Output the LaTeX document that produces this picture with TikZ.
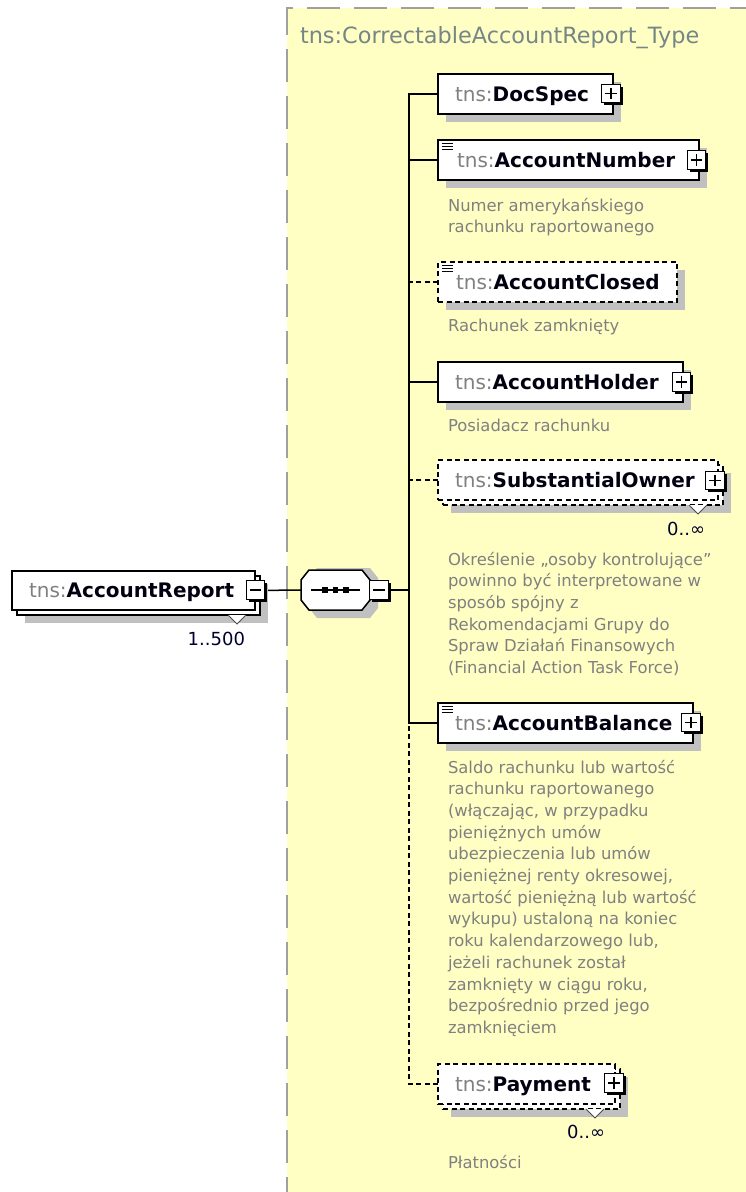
\documentclass[tikz,border=0pt]{standalone}
\usepackage{fontspec}
\setmainfont{DejaVu Sans}
\usetikzlibrary{shadows}

\definecolor{bgyellow}{RGB}{255,255,196}
\definecolor{framegrey}{RGB}{160,160,160}
\definecolor{shadowgrey}{RGB}{192,192,192}
\definecolor{docgrey}{RGB}{128,128,128}
\definecolor{prefixgrey}{RGB}{128,128,128}
\definecolor{hdrgrey}{RGB}{118,134,134}
\definecolor{namecol}{RGB}{0,0,16}
\definecolor{multcol}{RGB}{0,0,48}

\newcommand\tnsp{{\mdseries\color{prefixgrey}tns:}}
\newcommand\doclines[1]{\begin{tabular}[t]{@{}l@{}}#1\end{tabular}}
\newcommand\docmark[1]{%
  \foreach \dy in {3.5,6.5,9.5}{\draw[line width=1pt] ([xshift=4pt,yshift=-\dy pt]#1.north west) -- ++(11pt,0pt);}}

\tikzset{
  every node/.style={inner sep=0pt, outer sep=0pt},
  conn/.style={line width=1.5pt, black},
  optconn/.style={conn, dash pattern=on 5pt off 3.5pt},
  elembox/.style={draw=black, line width=1.5pt, fill=white, minimum height=40pt,
    drop shadow={shadow xshift=8pt, shadow yshift=-8pt, fill=shadowgrey, opacity=1, draw=none}},
  elemfront/.style={draw=black, line width=1.5pt, fill=white, minimum height=40pt},
  optbox/.style={elembox, dash pattern=on 5pt off 3.5pt},
  optfront/.style={elemfront, dash pattern=on 5pt off 3.5pt},
  ename/.style={anchor=base west, font=\fontsize{20}{24}\selectfont\bfseries, text=namecol},
  doctext/.style={anchor=base west, font=\fontsize{16.4}{21.7}\selectfont, text=docgrey},
  mult/.style={anchor=base east, font=\fontsize{18}{22}\selectfont, text=multcol},
  pmbox/.style={draw=black, line width=1.2pt, fill=white, minimum size=18.5pt,
    drop shadow={shadow xshift=2.5pt, shadow yshift=-2.5pt, fill=black, opacity=1, draw=none}},
  plusbox/.style={pmbox, path picture={
    \draw[line width=1.2pt] ([xshift=3.5pt]path picture bounding box.west) -- ([xshift=-3.5pt]path picture bounding box.east);
    \draw[line width=1.2pt] ([yshift=-3.5pt]path picture bounding box.north) -- ([yshift=3.5pt]path picture bounding box.south);}},
  minusbox/.style={pmbox, path picture={
    \draw[line width=1.2pt] ([xshift=3.5pt]path picture bounding box.west) -- ([xshift=-3.5pt]path picture bounding box.east);}},
  wedge/.style={fill=white, draw=black!70, line width=0.8pt},
}

\begin{document}
\begin{tikzpicture}[x=1pt,y=-1pt]
\useasboundingbox (0,0) rectangle (746,1192);
\clip (0,0) rectangle (746,1192);

% complex type frame
\fill[bgyellow] (287,8) rectangle (770,1210);
\draw[framegrey, line width=2.5pt, dash pattern=on 33pt off 14pt] (287,1210) -- (287,8) -- (770,8);
\node[anchor=base west, font=\fontsize{22.4}{26}\selectfont, text=hdrgrey] (hdr) at (300,43.3) {tns:CorrectableAccountReport\_Type};

% invisible anchors for layout
\coordinate (bus) at (409,590);
\node[minimum width=69pt, minimum height=40pt] (seq) at (335.5,590) {};
\node[minimum width=243pt, minimum height=39pt] (ar) at (133.5,590.5) {};
\node[minimum width=175pt, minimum height=40pt] (ds) at (525.5,94) {};
\node[minimum width=261pt, minimum height=40pt] (an) at (568.5,160) {};
\node[minimum width=239pt, minimum height=40pt] (ac) at (557.5,282) {};
\node[minimum width=245pt, minimum height=40pt] (ah) at (560.5,382) {};
\node[minimum width=280pt, minimum height=40pt] (so) at (578,480) {};
\node[minimum width=255pt, minimum height=40pt] (ab) at (565.5,723) {};
\node[minimum width=177pt, minimum height=40pt] (pay) at (526.5,1084) {};

% connectors
\draw[conn] (ar.east) -- (seq.west);
\draw[conn] (seq.east) -- (bus);
\draw[conn] (ds.west) -| (bus);
\draw[conn] (an.west) -| (bus);
\draw[conn] (ah.west) -| (bus);
\draw[conn] (ab.west) -| (bus);
\draw[optconn] (ac.west) -- (ac.west -| bus);
\draw[optconn] (so.west) -- (so.west -| bus);
\draw[optconn] (pay.west) -| (ab.west -| bus);

% sequence compositor
\begin{scope}[shift={(seq.center)}]
  \fill[shadowgrey] (-26.5,-12) -- (-18.5,-22) -- (34.5,-22) -- (42.5,-12) -- (42.5,18) -- (34.5,28) -- (-18.5,28) -- (-26.5,18) -- cycle;
  \filldraw[fill=white, draw=black, line width=1.5pt] (-34.5,-10) -- (-26.5,-20) -- (26.5,-20) -- (34.5,-10) -- (34.5,10) -- (26.5,20) -- (-26.5,20) -- (-34.5,10) -- cycle;
  \draw[line width=1.3pt] (-24.5,0) -- (24.5,0);
  \fill (-13.25,-2.75) rectangle (-7.75,2.75);
  \fill (-2.75,-2.75) rectangle (2.75,2.75);
  \fill (7.75,-2.75) rectangle (13.25,2.75);
\end{scope}
\node[minusbox] (seqm) at (379,590) {};

% AccountReport (root, 1..500)
\node[elembox, minimum width=243pt, minimum height=39pt] (arB) at (138.5,595.5) {};
\node[elemfront, minimum width=243pt, minimum height=39pt] (arF) at (ar.center) {};
\draw[wedge] (228,615) -- (237,624) -- (246,615);
\node[ename] (arT) at (29,597.5) {\tnsp AccountReport};
\node[minusbox] (arm) at (255.5,590) {};
\node[mult] (arM) at (245,645) {1..500};

% DocSpec
\node[elembox, minimum width=175pt] (dsB) at (ds.center) {};
\node[ename] (dsT) at (455,101.5) {\tnsp DocSpec};
\node[plusbox] (dsP) at (611,93.5) {};

% AccountNumber
\node[elembox, minimum width=261pt] (anB) at (an.center) {};
\docmark{anB}
\node[ename] (anT) at (457,167.5) {\tnsp AccountNumber};
\node[plusbox] (anP) at (696.5,160) {};
\node[doctext] (anD) at (448,211) {\doclines{Numer amerykańskiego\\rachunku raportowanego}};

% AccountClosed
\node[optbox, minimum width=239pt] (acB) at (ac.center) {};
\docmark{acB}
\node[ename] (acT) at (456,289.5) {\tnsp AccountClosed};
\node[doctext] (acD) at (448,331.7) {\doclines{Rachunek zamknięty}};

% AccountHolder
\node[elembox, minimum width=245pt] (ahB) at (ah.center) {};
\node[ename] (ahT) at (455,389.5) {\tnsp AccountHolder};
\node[plusbox] (ahP) at (681.5,382) {};
\node[doctext] (ahD) at (448,431) {\doclines{Posiadacz rachunku}};

% SubstantialOwner (0..unbounded)
\node[optbox, minimum width=280pt] (soB) at (583,485) {};
\node[optfront, minimum width=280pt] (soF) at (so.center) {};
\draw[wedge] (689,505) -- (698,514) -- (707,505);
\node[ename] (soT) at (455,487.5) {\tnsp SubstantialOwner};
\node[plusbox] (soP) at (715,480.5) {};
\node[mult] (soM) at (705,535) {0..∞};
\node[doctext] (soD) at (448,565) {\doclines{Określenie „osoby kontrolujące”\\powinno być interpretowane w\\sposób spójny z\\Rekomendacjami Grupy do\\Spraw Działań Finansowych\\(Financial Action Task Force)}};

% AccountBalance
\node[elembox, minimum width=255pt] (abB) at (ab.center) {};
\docmark{abB}
\node[ename] (abT) at (455,730.5) {\tnsp AccountBalance};
\node[plusbox] (abP) at (691,722.5) {};
\node[doctext] (abD) at (448,773) {\doclines{Saldo rachunku lub wartość\\rachunku raportowanego\\(włączając, w przypadku\\pieniężnych umów\\ubezpieczenia lub umów\\pieniężnej renty okresowej,\\wartość pieniężną lub wartość\\wykupu) ustaloną na koniec\\roku kalendarzowego lub,\\jeżeli rachunek został\\zamknięty w ciągu roku,\\bezpośrednio przed jego\\zamknięciem}};

% Payment (0..unbounded)
\node[optbox, minimum width=177pt] (payB) at (531.5,1089) {};
\node[optfront, minimum width=177pt] (payF) at (pay.center) {};
\draw[wedge] (586,1109) -- (595,1118) -- (604,1109);
\node[ename] (payT) at (455,1091.5) {\tnsp Payment};
\node[plusbox] (payP) at (614,1083) {};
\node[mult] (payM) at (605,1138) {0..∞};
\node[doctext] (payD) at (448,1168) {\doclines{Płatności}};
\end{tikzpicture}
\end{document}
